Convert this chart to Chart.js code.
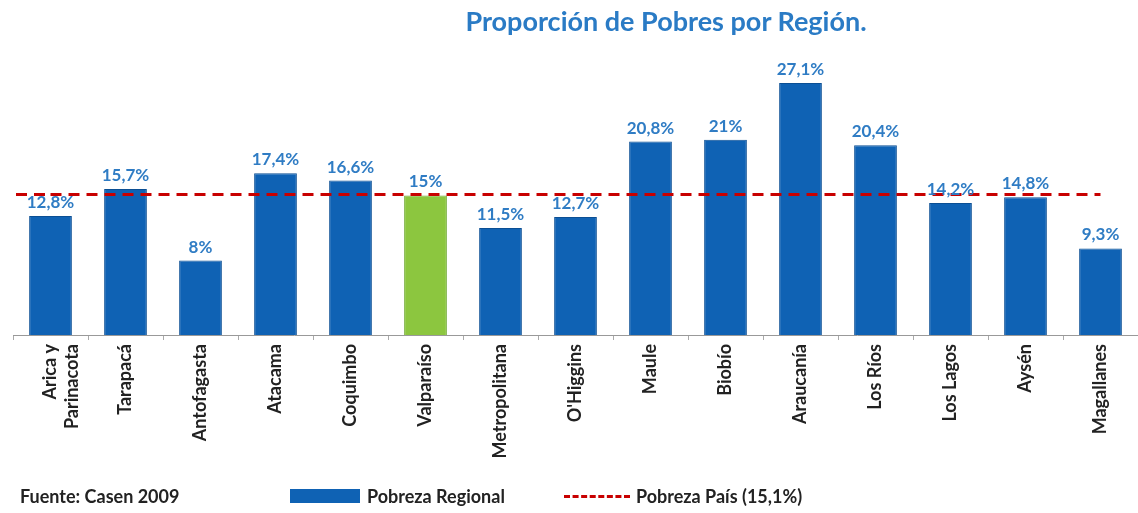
<!DOCTYPE html>
<html>
<head>
<meta charset="utf-8">
<script src="https://cdn.jsdelivr.net/npm/chart.js@4"></script>
<style>
  body { margin: 0; background: #fff; font-family: Lato, sans-serif; }
  #wrap { position: relative; width: 1138px; height: 513px; }
  #titulo { position: absolute; left: 0; top: 4px; width: 1332px; text-align: center;
            font-weight: bold; font-size: 27px; color: #2a7bc5; }
  .pie { position: absolute; font-weight: bold; font-size: 18px; color: #222; top: 485px; }
  .caja { position: absolute; left: 290px; top: 489px; width: 70px; height: 14px; background: #0f62b4; }
  .guion { position: absolute; left: 564px; top: 495px; width: 66px; border-top: 3px dashed #c80000; }
</style>
</head>
<body>
<div id="wrap">
  <canvas id="grafico" width="1138" height="513"></canvas>
  <div id="titulo">Proporción de Pobres por Región.</div>
  <div class="pie" style="left:20px">Fuente: Casen 2009</div>
  <div class="caja"></div>
  <div class="pie" style="left:367px">Pobreza Regional</div>
  <div class="guion"></div>
  <div class="pie" style="left:636px">Pobreza País (15,1%)</div>
</div>
<script>
// regiones y porcentaje de pobres (Casen 2009)
const regiones = [['Arica y', 'Parinacota'], 'Tarapacá', 'Antofagasta', 'Atacama', 'Coquimbo',
  'Valparaíso', 'Metropolitana', "O'Higgins", 'Maule', 'Biobío', 'Araucanía', 'Los Ríos',
  'Los Lagos', 'Aysén', 'Magallanes'];
const pobrezaRegional = [12.8, 15.7, 8, 17.4, 16.6, 15, 11.5, 12.7, 20.8, 21, 27.1, 20.4, 14.2, 14.8, 9.3];
const etiquetas = ['12,8%', '15,7%', '8%', '17,4%', '16,6%', '15%', '11,5%', '12,7%', '20,8%', '21%',
  '27,1%', '20,4%', '14,2%', '14,8%', '9,3%'];
const pobrezaPais = 15.1;
const destacada = 'Valparaíso';

const azul = '#0f62b4';
const verde = '#8cc63f';

// etiquetas encima de cada barra + prolongar la linea punteada hasta el borde izquierdo
const etiquetasPlugin = {
  id: 'etiquetas',
  afterDatasetsDraw(chart) {
    const ctx = chart.ctx;
    const meta = chart.getDatasetMeta(0);
    ctx.save();
    ctx.font = 'bold 17px Lato';
    ctx.fillStyle = '#2f7cc4';
    ctx.textAlign = 'center';
    ctx.textBaseline = 'bottom';
    meta.data.forEach((bar, i) => {
      ctx.fillText(etiquetas[i], bar.x, bar.y - 5);
    });
    const linea = chart.getDatasetMeta(1).data[0];
    ctx.strokeStyle = '#c80000';
    ctx.lineWidth = 3;
    ctx.setLineDash([11, 7]);
    ctx.beginPath();
    ctx.moveTo(chart.chartArea.left + 3, linea.y);
    ctx.lineTo(linea.x, linea.y);
    ctx.stroke();
    ctx.restore();
  }
};

new Chart(document.getElementById('grafico'), {
  type: 'bar',
  data: {
    labels: regiones,
    datasets: [
      {
        label: 'Pobreza Regional',
        data: pobrezaRegional,
        backgroundColor: regiones.map(r => r === destacada ? verde : azul),
        borderColor: regiones.map(r => r === destacada ? '#6fa830' : '#0b4f94'),
        borderWidth: 1,
        categoryPercentage: 1,
        barPercentage: 0.57,
        order: 1
      },
      {
        type: 'line',
        label: 'Pobreza País (15,1%)',
        data: regiones.map(() => pobrezaPais),
        borderColor: '#c80000',
        borderWidth: 3,
        borderDash: [11, 7],
        pointRadius: 0,
        fill: false,
        order: 0
      }
    ]
  },
  options: {
    responsive: false,
    animation: false,
    layout: { padding: { left: 13, right: 0, top: 56, bottom: 0 } },
    plugins: { legend: { display: false }, title: { display: false }, tooltip: { enabled: false } },
    scales: {
      x: {
        afterFit(s) { s.height = 178; },
        grid: { drawOnChartArea: false, color: '#aaa', tickLength: 5, offset: true },
        border: { color: '#999', width: 1 },
        ticks: {
          minRotation: 90, maxRotation: 90, autoSkip: false, padding: 4,
          color: '#222', font: { family: 'Lato', weight: 'bold', size: 18 }
        }
      },
      y: { display: false, min: 0, max: 30 }
    }
  },
  plugins: [etiquetasPlugin]
});
</script>
</body>
</html>
